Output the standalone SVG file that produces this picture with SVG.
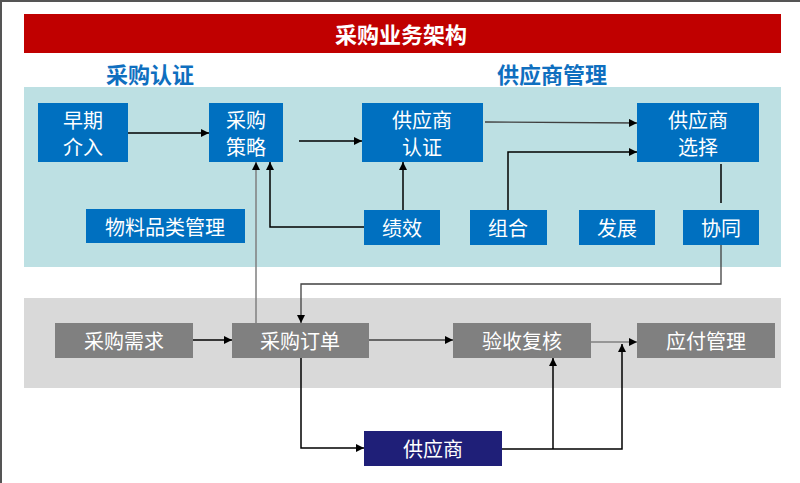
<svg xmlns="http://www.w3.org/2000/svg" width="800" height="483" viewBox="0 0 800 483">
<defs>
<marker id="ah" viewBox="0 0 10 10" refX="10" refY="5" markerWidth="8" markerHeight="8" markerUnits="userSpaceOnUse" orient="auto"><path d="M0,0 L10,5 L0,10 z" fill="#000"/></marker>
<style>
.blue{fill:#0070C0}
.gray{fill:#808080}
.t{font-family:"Noto Sans CJK SC","Noto Sans",sans-serif;font-size:20px;fill:#fff;text-anchor:middle;dominant-baseline:central}
.h{font-family:"Noto Sans CJK SC","Noto Sans",sans-serif;font-size:22px;font-weight:bold;fill:#0F6FBF;text-anchor:middle;dominant-baseline:central}
.ln{fill:none;stroke:#000;stroke-width:1.5}
.lg{fill:none;stroke:#7F7F7F;stroke-width:1.5}
.ld{fill:none;stroke:#404040;stroke-width:1.3}
</style>
</defs>
<rect x="0" y="0" width="800" height="483" fill="#fff"/>
<path d="M1,483 V1 H800" fill="none" stroke="#555" stroke-width="2"/>
<g id="title">
<rect x="24" y="14" width="757" height="39" fill="#C00000"/>
<text x="401" y="33" class="t" style="font-weight:bold;font-size:22px">采购业务架构</text>
</g>
<g id="sec1"><text x="150" y="73" class="h">采购认证</text></g>
<g id="sec2"><text x="552" y="73" class="h">供应商管理</text></g>
<rect x="24" y="87" width="757" height="180" fill="#BDE0E3"/>
<rect x="24" y="298" width="757" height="90" fill="#D9D9D9"/>
<g id="connectors">
<path class="ln" d="M128,133 H209" marker-end="url(#ah)"/>
<path class="ln" d="M299,141 H362" marker-end="url(#ah)"/>
<path class="ld" d="M485,122 L637,123" marker-end="url(#ah)"/>
<path class="ln" d="M508,210 V152 H637" marker-end="url(#ah)"/>
<path class="ln" d="M403,210 V162" marker-end="url(#ah)"/>
<path class="ln" d="M364,227 H270 V162" marker-end="url(#ah)"/>
<path class="lg" d="M256,323 V162" marker-end="url(#ah)"/>
<path class="ln" d="M721,164 V203"/>
<path class="ld" d="M721,245 V284 H301 V323" marker-end="url(#ah)"/>
<path class="ln" d="M193,340 H232" marker-end="url(#ah)"/>
<path class="ld" d="M369,340 H453" marker-end="url(#ah)"/>
<path class="lg" d="M591,342 H637" marker-end="url(#ah)"/>
<path class="ln" d="M301,358 V448 H364" marker-end="url(#ah)"/>
<path class="ln" d="M502,449 H622 V344" marker-end="url(#ah)"/>
<path class="ln" d="M553,449 V358" marker-end="url(#ah)"/>
</g>
<g id="n1"><rect class="blue" x="38" y="103" width="90" height="59"/><text class="t" x="83" y="119">早期</text><text class="t" x="83" y="146">介入</text></g>
<g id="n2"><rect class="blue" x="209" y="103" width="74" height="59"/><text class="t" x="246" y="119">采购</text><text class="t" x="246" y="146">策略</text></g>
<g id="n3"><rect class="blue" x="362" y="103" width="121" height="59"/><text class="t" x="422" y="119">供应商</text><text class="t" x="422" y="146">认证</text></g>
<g id="n4"><rect class="blue" x="637" y="103" width="122" height="59"/><text class="t" x="698" y="119">供应商</text><text class="t" x="698" y="146">选择</text></g>
<g id="n5"><rect class="blue" x="86" y="209" width="159" height="34"/><text class="t" x="165" y="226">物料品类管理</text></g>
<g id="n6"><rect class="blue" x="364" y="210" width="76" height="35"/><text class="t" x="402" y="227">绩效</text></g>
<g id="n7"><rect class="blue" x="470" y="210" width="77" height="35"/><text class="t" x="508" y="227">组合</text></g>
<g id="n8"><rect class="blue" x="579" y="210" width="76" height="35"/><text class="t" x="617" y="227">发展</text></g>
<g id="n9"><rect class="blue" x="683" y="210" width="76" height="35"/><text class="t" x="721" y="227">协同</text></g>
<g id="n10"><rect class="gray" x="55" y="323" width="138" height="35"/><text class="t" x="124" y="340">采购需求</text></g>
<g id="n11"><rect class="gray" x="232" y="323" width="137" height="35"/><text class="t" x="300" y="340">采购订单</text></g>
<g id="n12"><rect class="gray" x="453" y="323" width="138" height="35"/><text class="t" x="522" y="340">验收复核</text></g>
<g id="n13"><rect class="gray" x="637" y="323" width="138" height="35"/><text class="t" x="706" y="340">应付管理</text></g>
<g id="n14"><rect x="364" y="431" width="138" height="35" fill="#1F1F78"/><text class="t" x="433" y="448">供应商</text></g>
</svg>
